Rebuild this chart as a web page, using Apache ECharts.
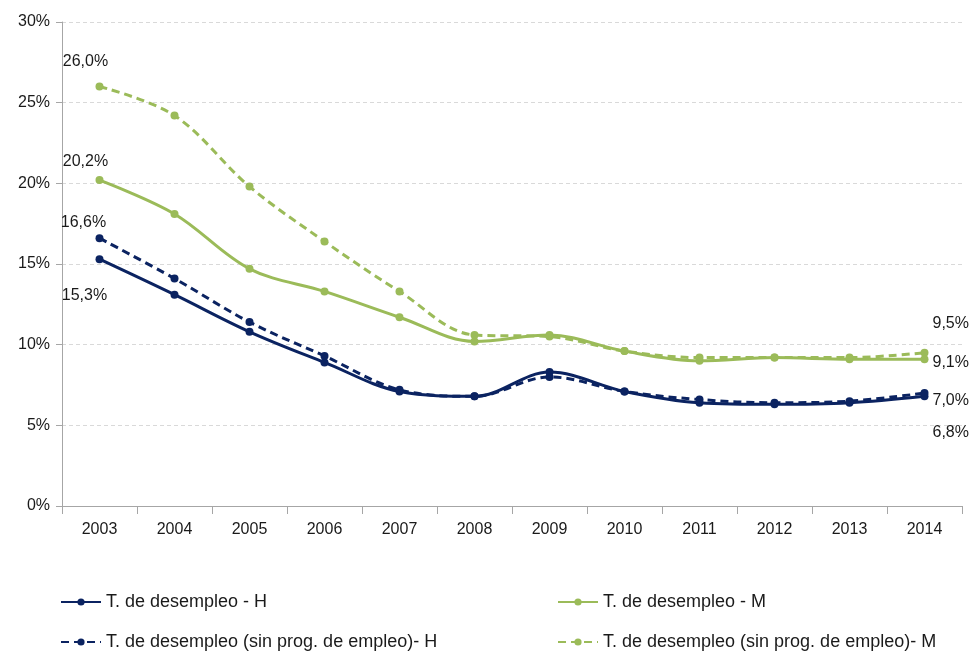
<!DOCTYPE html>
<html>
<head>
<meta charset="utf-8">
<script src="https://cdn.jsdelivr.net/npm/echarts@6/dist/echarts.min.js"></script>
<style>
  html, body { margin: 0; padding: 0; background: #fff; }
  #chart { width: 970px; height: 655px; }
</style>
</head>
<body>
<div id="chart"></div>
<script>
// Unemployment rates (%) by year, men (H) and women (M), with and without employment programmes
const years = ['2003', '2004', '2005', '2006', '2007', '2008', '2009', '2010', '2011', '2012', '2013', '2014'];
const rateH = [15.3, 13.1, 10.8, 8.9, 7.1, 6.8, 8.3, 7.1, 6.4, 6.3, 6.4, 6.8];
const rateM = [20.2, 18.1, 14.7, 13.3, 11.7, 10.2, 10.6, 9.6, 9.0, 9.2, 9.1, 9.1];
const rateHSinProg = [16.6, 14.1, 11.4, 9.3, 7.2, 6.8, 8.0, 7.1, 6.6, 6.4, 6.5, 7.0];
const rateMSinProg = [26.0, 24.2, 19.8, 16.4, 13.3, 10.6, 10.5, 9.6, 9.2, 9.2, 9.2, 9.5];
const yTicks = [0, 5, 10, 15, 20, 25, 30];

const seriesNames = [
  'T. de desempleo - H',
  'T. de desempleo - M',
  'T. de desempleo (sin prog. de empleo)- H',
  'T. de desempleo (sin prog. de empleo)- M'
];

const NAVY = '#0b2361';
const GREEN = '#9bbb59';
const FONT = 'Liberation Sans';

const fmtPct = v => v.toFixed(1).replace('.', ',') + '%';

// value labels on the first and last points of each line
function endLabels(values, firstLabel, lastLabel) {
  return values.map((v, i) => {
    let lab = null;
    if (i === 0) lab = firstLabel;
    if (i === values.length - 1) lab = lastLabel;
    if (!lab) return v;
    return {
      value: v,
      label: Object.assign({
        show: true,
        formatter: p => fmtPct(p.value),
        color: '#1a1a1a',
        fontFamily: FONT,
        fontSize: 16
      }, lab)
    };
  });
}

function lineSeries(name, values, color, dashed, firstLabel, lastLabel, z) {
  return {
    name: name,
    type: 'line',
    smooth: 0.35,
    symbol: 'circle',
    symbolSize: 8,
    z: z,
    lineStyle: { color: color, width: 3, type: dashed ? [8, 5] : 'solid' },
    itemStyle: { color: color },
    emphasis: { disabled: true },
    data: endLabels(values, firstLabel, lastLabel)
  };
}

const legendBase = {
  top: 593, orient: 'vertical', padding: 0,
  itemWidth: 40, itemHeight: 9, itemGap: 22,
  textStyle: { fontFamily: FONT, fontSize: 18, color: '#1a1a1a' }
};

const chart = echarts.init(document.getElementById('chart'), null, { renderer: 'canvas' });

chart.setOption({
  animation: false,
  backgroundColor: '#ffffff',
  textStyle: { fontFamily: FONT },
  grid: { left: 62, right: 8, top: 22, bottom: 149 },
  legend: [
    Object.assign({ data: [seriesNames[0], seriesNames[2]], left: 60 }, legendBase),
    Object.assign({ data: [seriesNames[1], seriesNames[3]], left: 557 }, legendBase)
  ],
  xAxis: {
    type: 'category',
    data: years,
    boundaryGap: true,
    axisLine: { lineStyle: { color: '#a6a6a6', width: 1 } },
    axisTick: { show: true, alignWithLabel: false, length: 8, lineStyle: { color: '#a6a6a6' } },
    axisLabel: { fontFamily: FONT, fontSize: 16, color: '#1a1a1a', margin: 16 },
    splitLine: { show: false }
  },
  yAxis: {
    type: 'value',
    min: yTicks[0],
    max: yTicks[yTicks.length - 1],
    interval: yTicks[1] - yTicks[0],
    axisLine: { show: true, lineStyle: { color: '#a6a6a6', width: 1 } },
    axisTick: { show: true, length: 6, lineStyle: { color: '#a6a6a6' } },
    axisLabel: { fontFamily: FONT, fontSize: 16, color: '#1a1a1a', margin: 12, formatter: '{value}%' },
    splitLine: { show: true, lineStyle: { color: '#d9d9d9', type: [4, 3], width: 1 } }
  },
  series: [
    lineSeries(seriesNames[0], rateH, NAVY, false,
      { position: 'bottom', distance: 24, offset: [-15, 0] },
      { position: 'right', distance: 4, offset: [0, 36] }, 4),
    lineSeries(seriesNames[1], rateM, GREEN, false,
      { position: 'top', distance: 7, offset: [-14, 0] },
      { position: 'right', distance: 4, offset: [0, 3] }, 3),
    lineSeries(seriesNames[2], rateHSinProg, NAVY, true,
      { position: 'top', distance: 4, offset: [-16, 0] },
      { position: 'right', distance: 4, offset: [0, 8] }, 4),
    lineSeries(seriesNames[3], rateMSinProg, GREEN, true,
      { position: 'top', distance: 13, offset: [-14, 0] },
      { position: 'right', distance: 4, offset: [0, -29] }, 3)
  ]
});
</script>
</body>
</html>
